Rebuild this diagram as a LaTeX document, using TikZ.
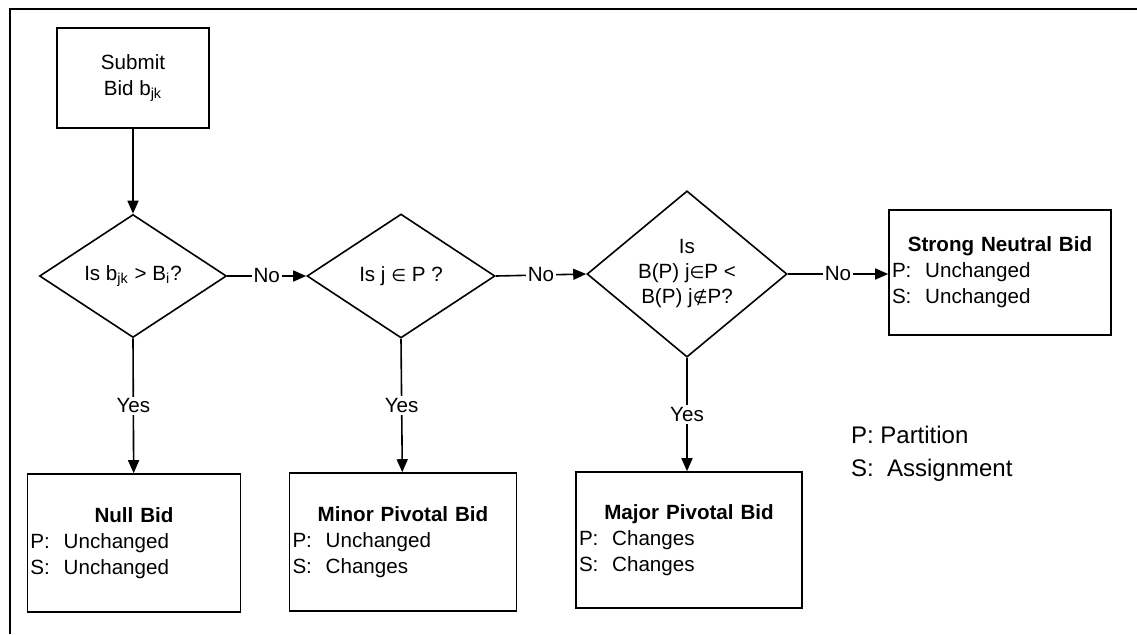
\documentclass[tikz,border=0pt]{standalone}
\usepackage{fontspec}
\setmainfont{Liberation Sans}
\newfontfamily\symfont{DejaVu Sans}
\usetikzlibrary{arrows.meta,shapes.geometric}

\newcommand{\isin}{{\symfont\fontsize{8.5}{10}\selectfont ∈}}
\newcommand{\isnotin}{{\symfont\fontsize{8.5}{10}\selectfont ∉}}

\tikzset{
  bidbox/.style={draw,line width=0.8pt,rectangle,inner xsep=1.5pt,inner ysep=0pt,align=left,font=\fontsize{10.3}{13}\selectfont},
  question/.style={draw,line width=0.8pt,diamond,inner sep=0pt,align=center,font=\fontsize{10.3}{12.5}\selectfont},
  flow/.style={line width=0.8pt,-{Triangle[length=6.5pt,width=5.5pt]}},
  tag/.style={fill=white,inner sep=1pt,font=\fontsize{10.3}{11}\selectfont}
}

\begin{document}
\begin{tikzpicture}[x=0.5pt,y=-0.5pt]
\useasboundingbox (0,0) rectangle (1137,634);
\draw [line width=1.4pt] (10,634) -- (10,9) -- (1137,9);
% start
\node [bidbox,align=center,minimum width=76pt,minimum height=50pt] (submit) at (133,78) {Submit\\Bid b\textsubscript{jk}};
% tests
\node [question,minimum width=93.5pt,minimum height=61.5pt] (isbig) at (133,276) {Is b\textsubscript{jk} > B\textsubscript{i}?};
\node [question,minimum width=94pt,minimum height=62pt] (isinp) at (401,276) {Is j \isin{} P ?};
\node [question,minimum width=100pt,minimum height=80pt] (islower) at (687,274) {Is\\B(P) j\isin P <\\B(P) j\isnotin P?};
% outcomes
\node [bidbox,text width=108pt,minimum height=62.5pt] (strong) at (1000,272.5) {\makebox[\linewidth]{\bfseries Strong Neutral Bid}\\P:\ \ Unchanged\\S:\ \ Unchanged};
\node [bidbox,text width=103.5pt,minimum height=69pt] (null) at (134,543) {\makebox[\linewidth]{\bfseries Null Bid}\\P:\ \ Unchanged\\S:\ \ Unchanged};
\node [bidbox,text width=110.5pt,minimum height=69pt] (minor) at (403,542) {\makebox[\linewidth]{\bfseries Minor Pivotal Bid}\\P:\ \ Unchanged\\S:\ \ Changes};
\node [bidbox,text width=110pt,minimum height=68pt] (major) at (689,540) {\makebox[\linewidth]{\bfseries Major Pivotal Bid}\\P:\ \ Changes\\S:\ \ Changes};
% legend
\node [anchor=west,font=\fontsize{12}{14}\selectfont] (legp) at (844,435) {P: Partition};
\node [anchor=west,font=\fontsize{12}{14}\selectfont] (legs) at (844,470) {S:\ \ Assignment};
% arrows
\draw [flow] (submit) -- (isbig);
\draw [flow] (isbig.east) -- node[tag] {No} (isinp.west);
\draw [flow] (isinp.east) -- node[tag] {No} (islower.west);
\draw [flow] (islower.east) -- node[tag] {No} (islower.east -| strong.west);
\draw [flow] (isbig.south) -- node[tag] {Yes} (null);
\draw [flow] (isinp.south) -- node[tag] {Yes} (minor);
\draw [flow] (islower.south) -- node[tag] {Yes} (major.north -| islower.south);
\end{tikzpicture}
\end{document}
